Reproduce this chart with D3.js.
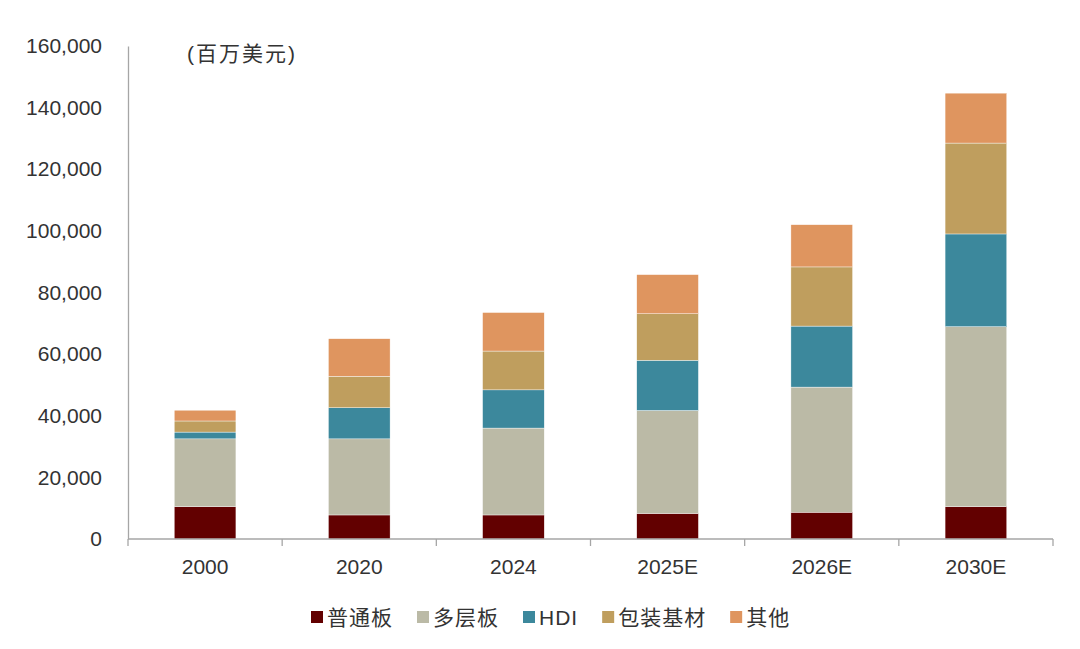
<!DOCTYPE html>
<html>
<head>
<meta charset="utf-8">
<script src="https://cdn.jsdelivr.net/npm/d3@7"></script>
<style>
  body { margin: 0; background: #fff; }
  text { font-family: "Liberation Sans", Arial, "Noto Sans CJK SC", sans-serif; fill: #333; }
</style>
</head>
<body>
<div id="chart"></div>
<script>
// Categories and series (million USD)
const years = ["2000", "2020", "2024", "2025E", "2026E", "2030E"];
const seriesNames = ["普通板", "多层板", "HDI", "包装基材", "其他"];
const plain = [10500, 7800, 7800, 8300, 8700, 10500];
const multilayer = [22000, 24700, 28200, 33400, 40600, 58400];
const hdi = [2200, 10100, 12400, 16300, 19800, 30100];
const substrate = [3600, 10200, 12600, 15100, 19200, 29500];
const other = [3500, 12200, 12500, 12700, 13700, 16200];
const yTicks = [0, 20000, 40000, 60000, 80000, 100000, 120000, 140000, 160000];
const colors = ["#620000", "#bbbaa6", "#3c889c", "#bf9e5e", "#df955f"];

const seriesValues = [plain, multilayer, hdi, substrate, other];
const table = years.map((y, i) => {
    const row = { year: y };
    seriesNames.forEach((s, j) => row[s] = seriesValues[j][i]);
    return row;
});

const W = 1080, H = 649;
const margin = { top: 46, right: 27, bottom: 110, left: 128 };
const width = W - margin.left - margin.right;
const height = H - margin.top - margin.bottom;

const svg = d3.select("#chart")
    .append("svg")
    .attr("width", W)
    .attr("height", H);

const g = svg.append("g")
    .attr("transform", `translate(${margin.left},${margin.top})`);

// Scales
const x = d3.scaleBand()
    .domain(years)
    .range([0, width])
    .paddingInner(0.6)
    .paddingOuter(0.3);

const y = d3.scaleLinear()
    .domain([0, 160000])
    .range([height, 0]);

const color = d3.scaleOrdinal()
    .domain(seriesNames)
    .range(colors);

const stacked = d3.stack().keys(seriesNames)(table);

// Bars
g.selectAll(".layer")
    .data(stacked)
    .enter()
    .append("g")
    .attr("class", "layer")
    .attr("fill", d => color(d.key))
    .selectAll("rect")
    .data(d => d)
    .enter()
    .append("rect")
    .attr("x", d => x(d.data.year))
    .attr("y", d => y(d[1]))
    .attr("width", x.bandwidth())
    .attr("height", d => y(d[0]) - y(d[1]))
    .attr("stroke", "#fff")
    .attr("stroke-width", 0.4);

// Y axis
const yAxis = g.append("g")
    .call(d3.axisLeft(y).tickValues(yTicks).tickSize(0).tickPadding(26).tickFormat(d3.format(",")));
yAxis.select(".domain").attr("stroke", "#a6a6a6").attr("stroke-width", 1.3);
yAxis.selectAll("text").style("font-size", "21px").attr("fill", "#333");

// X axis with ticks at category boundaries
const step = x.step();
const xAxis = g.append("g")
    .attr("transform", `translate(0,${height})`);
xAxis.append("line")
    .attr("x1", 0).attr("x2", width)
    .attr("stroke", "#a6a6a6").attr("stroke-width", 1.3);
xAxis.selectAll(".bound")
    .data(d3.range(years.length + 1))
    .enter()
    .append("line")
    .attr("x1", i => i * step).attr("x2", i => i * step)
    .attr("y1", 0).attr("y2", 7)
    .attr("stroke", "#a6a6a6").attr("stroke-width", 1.3);
xAxis.selectAll(".lbl")
    .data(years)
    .enter()
    .append("text")
    .attr("x", d => x(d) + x.bandwidth() / 2)
    .attr("y", 35)
    .attr("text-anchor", "middle")
    .style("font-size", "21px")
    .text(d => d);

// Unit label
svg.append("text")
    .attr("x", 187)
    .attr("y", 61)
    .style("font-size", "21px")
    .style("letter-spacing", "2px")
    .text("(百万美元)");

// Legend
const legend = svg.append("g")
    .attr("transform", "translate(311, 617)");
let lx = 0;
seriesNames.forEach((key) => {
    legend.append("rect")
        .attr("x", lx)
        .attr("y", -6)
        .attr("width", 12)
        .attr("height", 12)
        .attr("fill", color(key));
    const t = legend.append("text")
        .attr("x", lx + 16)
        .attr("y", 8)
        .style("font-size", "21px")
        .style("letter-spacing", "1px")
        .text(key);
    lx += 16 + t.node().getComputedTextLength() + 24;
});
</script>
</body>
</html>
